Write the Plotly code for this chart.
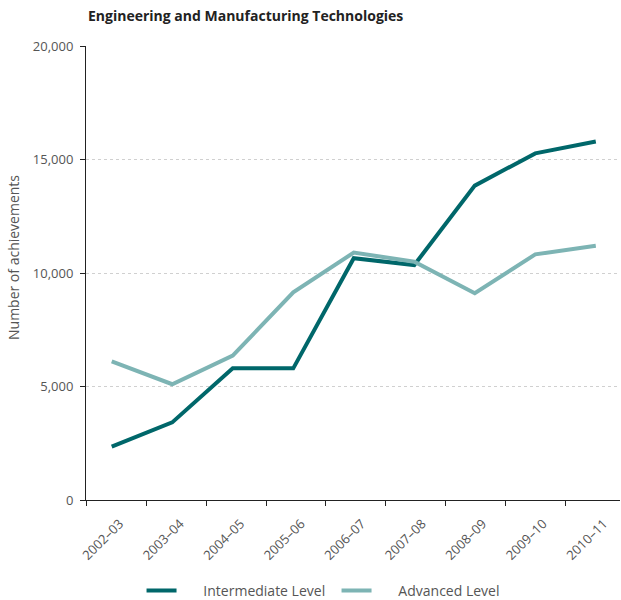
import plotly.graph_objects as go

years = ["2002–03", "2003–04", "2004–05", "2005–06", "2006–07",
         "2007–08", "2008–09", "2009–10", "2010–11"]
intermediate = [2350, 3420, 5800, 5800, 10650, 10350, 13850, 15270, 15790]
advanced = [6110, 5100, 6360, 9150, 10900, 10500, 9110, 10820, 11200]

pos = list(range(len(years)))
NB = "\u00a0"

fig = go.Figure()
fig.add_trace(go.Scatter(x=pos, y=intermediate, mode="lines",
                         name=NB * 6 + "Intermediate Level",
                         line=dict(color="#00676A", width=4)))
fig.add_trace(go.Scatter(x=pos, y=advanced, mode="lines",
                         name=NB * 6 + "Advanced Level",
                         line=dict(color="#7DB4B4", width=4)))

fig.update_layout(
    width=621, height=600,
    paper_bgcolor="white", plot_bgcolor="white",
    margin=dict(l=86, r=1, t=46, b=100, autoexpand=False),
    font=dict(family="Open Sans, Noto Sans, sans-serif", color="#555555", size=12),
    title=dict(text="<b>Engineering and Manufacturing Technologies</b>",
               x=88 / 621, xanchor="left", y=1 - 16 / 600, yanchor="middle",
               font=dict(size=14, color="#222222", family="Open Sans, sans-serif")),
    showlegend=True,
    legend=dict(orientation="h", x=0.104, xanchor="left", y=-0.2, yanchor="middle",
                entrywidth=150, entrywidthmode="pixels",
                font=dict(size=14, color="#555555")),
    xaxis=dict(range=[-0.425, 8.40], showgrid=False, zeroline=False, automargin=False,
               showline=True, linecolor="#222222", linewidth=1,
               tickmode="array", tickvals=[p + 0.13 for p in pos], ticktext=years,
               ticks="", ticklabelstandoff=10,
               minor=dict(tickmode="linear", tick0=-0.42, dtick=0.99,
                          ticks="outside", ticklen=5, tickcolor="#222222", showgrid=False),
               tickangle=-45, tickfont=dict(size=13, color="#555555")),
    yaxis=dict(range=[0, 20000], tickvals=[0, 5000, 10000, 15000, 20000], automargin=False,
               tickformat=",d", showgrid=True, gridcolor="#d0d0d0", griddash="dot",
               gridwidth=1, zeroline=False,
               showline=True, linecolor="#222222", linewidth=1,
               ticks="outside", ticklen=5, tickcolor="#222222", ticklabelstandoff=4,
               tickfont=dict(size=13, color="#555555")),
    annotations=[dict(text="Number of achievements", textangle=-90,
                      xref="paper", yref="paper",
                      x=(13 - 86) / 534, y=(500 - 258) / 454,
                      xanchor="center", yanchor="middle", showarrow=False,
                      font=dict(size=14, color="#555555"))],
)

fig.write_html("out.html", config={"displayModeBar": False},
               post_script="document.body.style.margin='0';")
